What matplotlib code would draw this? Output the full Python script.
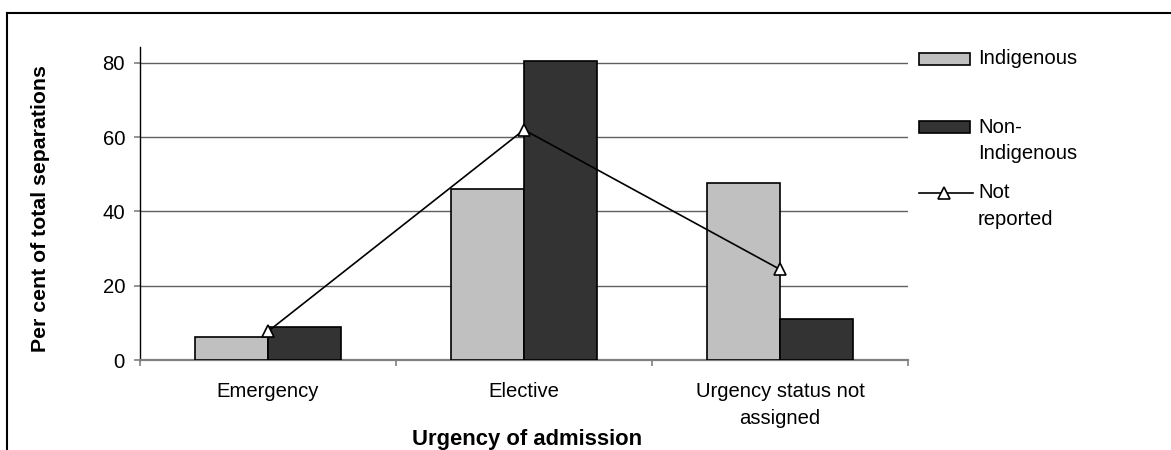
import matplotlib
matplotlib.use("Agg")
import matplotlib.pyplot as plt
from matplotlib.lines import Line2D
from matplotlib.patches import Rectangle
import numpy as np

categories = ["Emergency", "Elective", "Urgency status not\nassigned"]
indigenous = [6.3, 46.1, 47.7]
non_indigenous = [9.0, 80.6, 11.0]
not_reported = [7.7, 62.0, 24.4]
series_labels = ["Indigenous", "Non-\nIndigenous", "Not\nreported"]
yticks = [0, 20, 40, 60, 80]

plt.rcParams['font.family'] = ['Liberation Sans', 'DejaVu Sans']

W, H = 1171, 450
fig = plt.figure(figsize=(W / 100, H / 100), dpi=100)
ax = fig.add_axes([140 / W, 1 - 360 / H, 768 / W, 313 / H])

FS = 14.6
c_ind = '#c0c0c0'
c_non = '#333333'
x = np.arange(len(categories))
w = 0.286

ax.bar(x - w / 2, indigenous, w, color=c_ind, edgecolor='black', linewidth=1.2, zorder=3)
ax.bar(x + w / 2, non_indigenous, w, color=c_non, edgecolor='black', linewidth=1.2, zorder=3)
ax.plot(x, not_reported, color='black', linewidth=1.2, marker='^', markersize=9,
        markerfacecolor='white', markeredgecolor='black', markeredgewidth=1.2, zorder=4)

ax.set_xlim(-0.5, 2.5)
ax.set_ylim(0, 84.3)
ax.set_yticks(yticks)
ax.set_yticklabels([str(v) for v in yticks], fontsize=FS)
ax.yaxis.grid(True, color='#606060', linewidth=1.0, zorder=0)
ax.set_axisbelow(True)

ax.set_xticks(x)
ax.set_xticklabels(categories, fontsize=FS, linespacing=1.5)
ax.set_xticks([-0.5, 0.5, 1.5, 2.5], minor=True)
ax.tick_params(axis='x', which='major', length=0, pad=16)
ax.tick_params(axis='x', which='minor', length=4, color='#808080', width=1.2)
ax.tick_params(axis='y', length=4.3, color='#808080', width=1.2, pad=6.5)

for s in ['top', 'right']:
    ax.spines[s].set_visible(False)
ax.spines['bottom'].set_color('#808080')
ax.spines['bottom'].set_linewidth(1.6)
ax.spines['left'].set_color('black')
ax.spines['left'].set_linewidth(1.0)

ax.set_ylabel("Per cent of total separations", fontsize=15.3, fontweight='bold')
ax.yaxis.set_label_coords((50 - 140) / 768, 0.484)

fig.text(527 / W, 1 - 440 / H, "Urgency of admission", fontsize=15.8, fontweight='bold',
         ha='center', va='center')

# legend (manual, figure pixel coords)
def fx(px):
    return px / W
def fy(py):
    return 1 - py / H

fig.patches.append(Rectangle((fx(919), fy(65)), 51 / W, 12 / H, transform=fig.transFigure,
                             facecolor=c_ind, edgecolor='black', linewidth=1.2))
fig.patches.append(Rectangle((fx(919), fy(132.7)), 51 / W, 12 / H, transform=fig.transFigure,
                             facecolor=c_non, edgecolor='black', linewidth=1.2))
fig.lines.append(Line2D([fx(919), fx(973)], [fy(193.3), fy(193.3)], transform=fig.transFigure,
                        color='black', linewidth=1.2))
fig.lines.append(Line2D([fx(944)], [fy(193.3)], transform=fig.transFigure, marker='^',
                        markersize=9, markerfacecolor='white', markeredgecolor='black',
                        markeredgewidth=1.2, linestyle='none'))
for lab, yc in zip(series_labels, [58, 126.7, 192]):
    fig.text(fx(978), fy(yc - 9), lab, fontsize=FS, ha='left', va='top', linespacing=1.5)

# outer border (clipped at right and bottom)
fig.lines.append(Line2D([fx(7), fx(7)], [fy(13), fy(452)], transform=fig.transFigure,
                        color='black', linewidth=1.5))
fig.lines.append(Line2D([fx(7), fx(1173)], [fy(13), fy(13)], transform=fig.transFigure,
                        color='black', linewidth=1.5))

fig.savefig("out.png", dpi=100)
